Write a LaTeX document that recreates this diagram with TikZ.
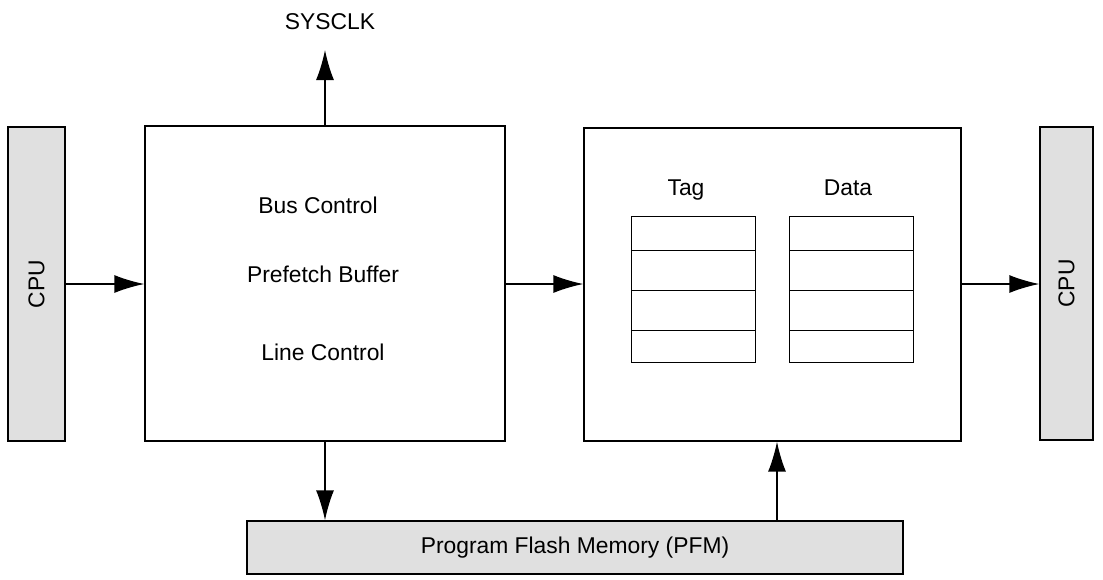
\documentclass[tikz,border=0pt]{standalone}
\usepackage{fontspec}
\setmainfont{Liberation Sans}
\usetikzlibrary{arrows.meta}
\usetikzlibrary{positioning}

\definecolor{boxgray}{RGB}{224,224,224}

\tikzset{
	bar/.style={draw, fill=boxgray, thick, inner sep=0pt},
	block/.style={draw, thick, fill=white, inner sep=0pt},
	cell/.style={draw, minimum width=2.48cm, minimum height=0.8cm, inner sep=0pt},
	flow/.style={-{Latex[length=0.6cm,width=0.36cm]}, thick},
	lbl/.style={font=\fontsize{13}{15}\selectfont}
}

\begin{document}
\begin{tikzpicture}[x=0.02cm, y=-0.02cm]
	\useasboundingbox (0,0) rectangle (1103,579);

	% side bars
	\node[bar, minimum width=1.14cm, minimum height=6.28cm] (cpuL) at (36.5,284) {};
	\node[lbl, rotate=90] at (cpuL) {CPU};
	\node[bar, minimum width=1.06cm, minimum height=6.26cm] (cpuR) at (1066.5,283.5) {};
	\node[lbl, rotate=90] at (cpuR) {CPU};
	\node[bar, minimum width=13.12cm, minimum height=1.06cm] (pfm) at (575,547.5) {};
	\node[lbl] at (pfm) {Program Flash Memory (PFM)};

	% blocks
	\node[block, minimum width=7.2cm, minimum height=6.3cm] (ctrl) at (325,283.5) {};
	\node[block, minimum width=7.54cm, minimum height=6.26cm] (cache) at (772.5,284.5) {};

	% text
	\node[lbl] at (318,205) {Bus Control};
	\node[lbl] at (323,274) {Prefetch Buffer};
	\node[lbl] at (323,352) {Line Control};
	\node[lbl] (sysclk) at (330,22) {SYSCLK};
	\node[lbl] at (686,190) {Tag};
	\node[lbl] at (848,188) {Data};

	% tag and data arrays
	\foreach \col/\cx in {tag/693, data/851.5} {
		\node[cell, minimum height=0.68cm] (\col1) at (\cx,233) {};
		\node[cell] (\col2) at (\cx,270) {};
		\node[cell] (\col3) at (\cx,310) {};
		\node[cell, minimum height=0.64cm] (\col4) at (\cx,346) {};
	}

	% arrows
	\coordinate (clk) at (325,50);
	\draw[flow] (cpuL.east |- 0,284) -- (ctrl.west |- 0,284);
	\draw[flow] (ctrl.east |- 0,284) -- (cache.west |- 0,284);
	\draw[flow] (cache.east |- 0,284) -- (cpuR.west |- 0,284);
	\draw[flow] (ctrl.north -| clk) -- (clk);
	\draw[flow] (ctrl.south -| clk) -- (pfm.north -| clk);
	\draw[flow] (pfm.north -| 777,0) -- (cache.south -| 777,0);
\end{tikzpicture}
\end{document}
